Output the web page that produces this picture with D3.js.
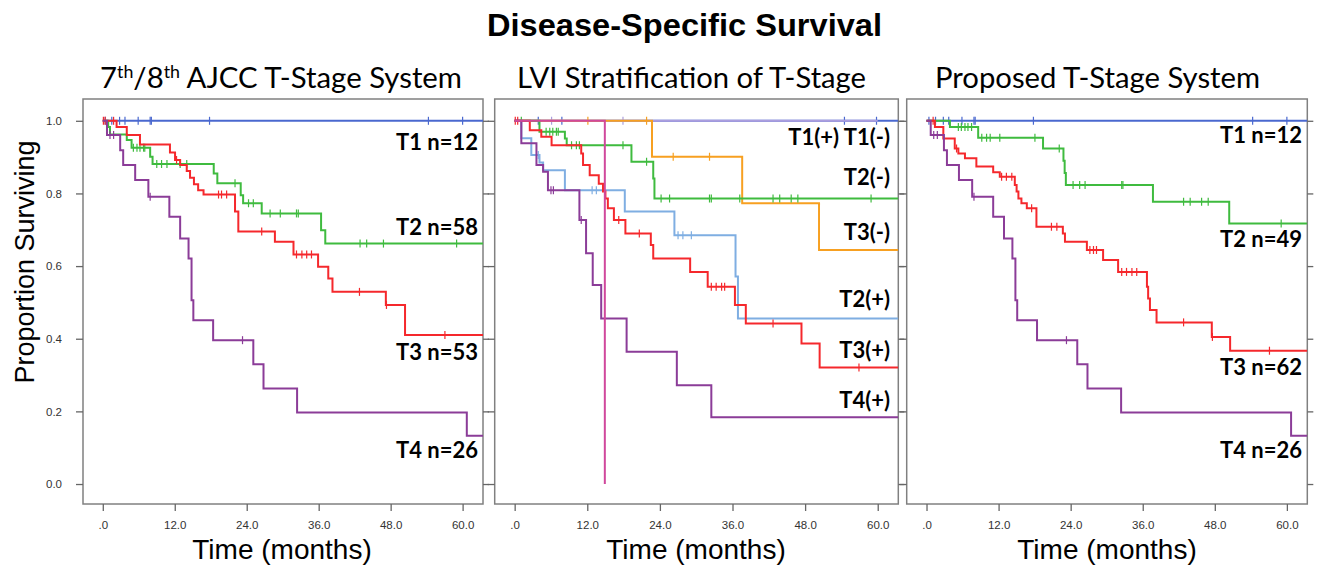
<!DOCTYPE html>
<html>
<head>
<meta charset="utf-8">
<script src="https://cdn.jsdelivr.net/npm/d3@7"></script>
<style>
  body { margin: 0; background: #fff; }
  svg { display: block; }
</style>
</head>
<body>
<svg id="chart" width="1321" height="572"></svg>
<script>
// ---- data ----
const xTicks = [0, 12, 24, 36, 48, 60];
const xTickLabels = [".0", "12.0", "24.0", "36.0", "48.0", "60.0"];
const yTicks = [0, 0.2, 0.4, 0.6, 0.8, 1.0];

// steps: [month, survival from that month on]; censor: months with a "+"
const t1Steps = [[0, 1]];
const t1Censor = [0.4, 1.5, 2.8, 3.7, 5.9, 7.9, 8.1, 17.8, 54.3, 60.0];

const t4Steps = [[0, 1], [0.7, 0.961], [2.9, 0.919], [3.4, 0.878], [5.4, 0.837], [7.6, 0.791],
  [11.1, 0.736], [12.9, 0.676], [14.3, 0.621], [14.8, 0.506], [15.1, 0.451], [18.4, 0.396],
  [25.1, 0.330], [26.8, 0.263], [32.4, 0.197], [60.7, 0.133]];
const t4Censor = [1.2, 1.8, 7.9, 23.3];

// 7th/8th AJCC
const ajccT2Steps = [[0, 1], [0.9, 0.983], [1.2, 0.962], [4.0, 0.947], [4.8, 0.926], [7.9, 0.901],
  [8.3, 0.881], [18.5, 0.855], [19.1, 0.828], [23.0, 0.795], [23.4, 0.773], [26.5, 0.745],
  [36.4, 0.699], [37.1, 0.662]];
const ajccT2Censor = [5.1, 5.7, 6.2, 6.8, 7.0, 9.0, 9.8, 10.7, 12.9, 14.0, 22.05, 24.3, 25.1,
  27.9, 29.6, 32.3, 32.6, 42.9, 44.0, 46.8, 59.0];
const ajccT3Steps = [[0, 1], [2.3, 0.983], [4.0, 0.961], [6.2, 0.935], [11.2, 0.913], [12.05, 0.892],
  [12.9, 0.878], [14.0, 0.862], [14.55, 0.843], [15.2, 0.825], [15.9, 0.809], [16.8, 0.797],
  [22.05, 0.750], [22.6, 0.695], [28.7, 0.667], [31.8, 0.632], [35.9, 0.598], [37.6, 0.566],
  [38.3, 0.529], [47.2, 0.493], [50.4, 0.410]];
const ajccT3Censor = [0.1, 0.4, 1.8, 12.3, 19.3, 19.8, 20.65, 26.5, 32.3, 33.2, 34.0, 34.8,
  42.8, 47.3, 57.05];

// LVI stratification
const lviT1nCensor = [3.9, 7.8, 54.5, 59.8];
const lviT1pCensor = [6.1, 17.9];
const lviT2nSteps = [[0, 1], [4.1, 0.970], [8.3, 0.951], [8.6, 0.933], [19.3, 0.887], [22.9, 0.841],
  [23.1, 0.786]];
const lviT2nCensor = [1.1, 5.2, 5.8, 6.3, 6.9, 7.2, 9.4, 10.2, 10.7, 17.9, 21.8, 24.2, 25.6,
  32.2, 32.5, 37.2, 42.7, 43.8, 45.7, 46.8, 58.9];
const lviT3nSteps = [[0, 1], [22.7, 0.901], [37.6, 0.773], [50.3, 0.644]];
const lviT3nCensor = [12.1, 21.8, 26.2, 32.2];
const lviT2pSteps = [[0, 1], [1.1, 0.952], [2.75, 0.906], [4.1, 0.885], [4.7, 0.864], [8.3, 0.809],
  [18.2, 0.750], [26.4, 0.685], [36.5, 0.571], [36.9, 0.456]];
const lviT2pCensor = [3.9, 12.8, 13.5, 27.0, 27.8, 29.2];
const lviT3pSteps = [[0, 1], [2.5, 0.974], [4.4, 0.956], [6.1, 0.933], [11.0, 0.910], [11.3, 0.878],
  [12.4, 0.850], [13.9, 0.827], [14.6, 0.805], [15.0, 0.786], [15.4, 0.759], [16.4, 0.727],
  [18.3, 0.690], [22.5, 0.658], [22.9, 0.621], [29.0, 0.584], [31.9, 0.543], [36.4, 0.493],
  [38.2, 0.442], [47.4, 0.387], [50.4, 0.321]];
const lviT3pCensor = [0.1, 0.5, 17.2, 20.6, 32.5, 33.3, 34.2, 34.7, 42.7, 56.9];
const lviT4pSteps = [[0, 1], [1.1, 0.938], [3.6, 0.878], [4.7, 0.860], [5.5, 0.809], [10.7, 0.727],
  [11.8, 0.635], [12.9, 0.548], [14.3, 0.456], [18.5, 0.364], [26.8, 0.272], [32.5, 0.184]];
const lviT4pCensor = [6.0, 6.4, 11.0];
const lviT4nSteps = [[0, 1], [14.9, 0]];

// proposed system
const propT2Steps = [[0, 1], [3.9, 0.983], [8.6, 0.953], [19.4, 0.924], [22.8, 0.89], [23.0, 0.856],
  [23.2, 0.823], [37.7, 0.777], [50.4, 0.717]];
const propT2Censor = [5.3, 5.8, 6.4, 6.9, 7.5, 9.2, 10.0, 10.6, 12.2, 18.05, 22.1, 24.4, 25.5,
  26.4, 32.5, 32.7, 42.8, 43.9, 45.8, 46.9, 59.05];
const propT3Steps = [[0, 1], [1.4, 0.983], [2.8, 0.951], [4.7, 0.924], [5.3, 0.910], [6.4, 0.897],
  [8.3, 0.874], [11.1, 0.858], [12.2, 0.846], [14.7, 0.823], [15.0, 0.805], [15.3, 0.786],
  [15.8, 0.773], [16.7, 0.759], [18.3, 0.708], [22.7, 0.690], [23.05, 0.667], [26.7, 0.644],
  [29.4, 0.617], [31.9, 0.584], [36.7, 0.543], [36.9, 0.511], [37.2, 0.479], [38.3, 0.445],
  [47.5, 0.405], [50.55, 0.367]];
const propT3Censor = [1.1, 5.0, 12.5, 13.3, 14.2, 17.5, 20.8, 21.7, 27.2, 27.8, 28.3, 32.5,
  33.3, 34.2, 35.0, 42.8, 47.6, 57.1];

const ajccLabels = ["T1 n=12", "T2 n=58", "T3 n=53", "T4 n=26"];
const lviLabels = ["T1(+) T1(-)", "T2(-)", "T3(-)", "T2(+)", "T3(+)", "T4(+)"];
const propLabels = ["T1 n=12", "T2 n=49", "T3 n=62", "T4 n=26"];

// ---- colours ----
const blue = "#4a68cf", green = "#3fbb3f", red = "#f5282c", purple = "#8b3c98";
const orange = "#f7a021", lightBlue = "#7faee2", lavender = "#ab9ede", magenta = "#d0489c";

// ---- layout ----
const END = 63.4;
const xDomain = [-3.3, 63.4];
const plotTop = 99, plotBottom = 504;
const y = d3.scaleLinear().domain([-0.055, 1.06]).range([plotBottom, plotTop]);

const panels = [
  {
    left: 83, right: 483, yLabels: true,
    titleX: 100, titleW: 362, axisTitleX: 282,
    curves: [
      { steps: t1Steps, censor: t1Censor, end: END, color: blue },
      { steps: ajccT2Steps, censor: ajccT2Censor, end: END, color: green },
      { steps: ajccT3Steps, censor: ajccT3Censor, end: END, color: red },
      { steps: t4Steps, censor: t4Censor, end: END, color: purple }
    ],
    labels: ajccLabels, labelRight: 478, labelY: [150, 235, 360, 458]
  },
  {
    left: 494.7, right: 898.3, yLabels: false,
    titleX: 517, titleW: 349, title: "LVI Stratification of T-Stage", axisTitleX: 696,
    curves: [
      { steps: t1Steps, censor: lviT1nCensor, end: END, color: blue },
      { steps: t1Steps, censor: lviT1pCensor, end: 60.0, color: lavender },
      { steps: lviT3nSteps, censor: lviT3nCensor, end: END, color: orange },
      { steps: lviT2nSteps, censor: lviT2nCensor, end: END, color: green },
      { steps: lviT2pSteps, censor: lviT2pCensor, end: END, color: lightBlue },
      { steps: lviT3pSteps, censor: lviT3pCensor, end: END, color: red },
      { steps: lviT4pSteps, censor: lviT4pCensor, end: END, color: purple },
      { steps: lviT4nSteps, censor: [], end: 14.9, color: magenta }
    ],
    labels: lviLabels, labelRight: 890, labelY: [145, 185, 240, 307, 358, 408]
  },
  {
    left: 906.7, right: 1307.3, yLabels: false,
    titleX: 935, titleW: 325, title: "Proposed T-Stage System", axisTitleX: 1107,
    curves: [
      { steps: t1Steps, censor: t1Censor, end: END, color: blue },
      { steps: propT2Steps, censor: propT2Censor, end: END, color: green },
      { steps: propT3Steps, censor: propT3Censor, end: END, color: red },
      { steps: t4Steps, censor: t4Censor, end: END, color: purple }
    ],
    labels: propLabels, labelRight: 1302, labelY: [143, 247, 375, 458]
  }
];

const svg = d3.select("#chart");

// main title
svg.append("text")
  .attr("x", 487).attr("y", 36)
  .attr("textLength", 395).attr("lengthAdjust", "spacingAndGlyphs")
  .style("font-family", "'Liberation Sans', Arial, sans-serif")
  .style("font-weight", "bold").style("font-size", "32px")
  .text("Disease-Specific Survival");

// y axis title
svg.append("text")
  .attr("transform", "translate(34,262) rotate(-90)")
  .attr("text-anchor", "middle")
  .style("font-family", "'Liberation Sans', Arial, sans-serif")
  .style("font-size", "27px")
  .text("Proportion Surviving");

function survAt(steps, t) {
  let s = steps[0][1];
  steps.forEach(d => { if (d[0] <= t) s = d[1]; });
  return s;
}

panels.forEach((p, pi) => {
  const x = d3.scaleLinear().domain(xDomain).range([p.left, p.right]);
  const g = svg.append("g");

  // panel title
  const title = g.append("text")
    .attr("x", p.titleX).attr("y", 88)
    .attr("textLength", p.titleW).attr("lengthAdjust", "spacingAndGlyphs")
    .style("font-family", "Lato, 'Open Sans', sans-serif")
    .style("font-size", "28px");
  if (pi === 0) {
    title.append("tspan").text("7");
    title.append("tspan").attr("dy", -10).style("font-size", "17px").text("th");
    title.append("tspan").attr("dy", 10).text("/8");
    title.append("tspan").attr("dy", -10).style("font-size", "17px").text("th");
    title.append("tspan").attr("dy", 10).text(" AJCC T-Stage System");
  } else {
    title.text(p.title);
  }

  // frame
  g.append("rect")
    .attr("x", p.left).attr("y", plotTop)
    .attr("width", p.right - p.left).attr("height", plotBottom - plotTop)
    .attr("fill", "#fff").attr("stroke", "#808080").attr("stroke-width", 1.5);

  // axes
  const xAxis = g.append("g")
    .attr("transform", `translate(0,${plotBottom})`)
    .call(d3.axisBottom(x).tickValues(xTicks).tickSize(7).tickPadding(10)
      .tickFormat((d, i) => xTickLabels[i]));
  const yAxisL = g.append("g")
    .attr("transform", `translate(${p.left},0)`)
    .call(d3.axisLeft(y).tickValues(yTicks).tickSize(7).tickPadding(14)
      .tickFormat(p.yLabels ? d3.format(".1f") : ""));
  const yAxisR = g.append("g")
    .attr("transform", `translate(${p.right},0)`)
    .call(d3.axisRight(y).tickValues(yTicks).tickSize(6).tickFormat(""));
  [xAxis, yAxisL, yAxisR].forEach(a => {
    a.select(".domain").remove();
    a.selectAll(".tick line").attr("stroke", "#666").attr("stroke-width", 1.3);
    a.selectAll(".tick text")
      .style("font-family", "'Liberation Sans', Arial, sans-serif")
      .style("font-size", "11.5px").attr("fill", "#333");
  });

  // x axis title
  g.append("text")
    .attr("x", p.axisTitleX).attr("y", 559)
    .attr("text-anchor", "middle")
    .style("font-family", "'Liberation Sans', Arial, sans-serif")
    .style("font-size", "28px")
    .text("Time (months)");

  // curves
  const clipId = "clip" + pi;
  g.append("clipPath").attr("id", clipId).append("rect")
    .attr("x", p.left).attr("y", plotTop).attr("width", p.right - p.left).attr("height", plotBottom - plotTop);
  const plot = g.append("g").attr("clip-path", `url(#${clipId})`);

  const line = d3.line().x(d => x(d[0])).y(d => y(d[1])).curve(d3.curveStepAfter);

  p.curves.forEach(c => {
    const pts = c.steps.concat([[c.end, c.steps[c.steps.length - 1][1]]]);
    plot.append("path")
      .attr("d", line(pts))
      .attr("fill", "none").attr("stroke", c.color).attr("stroke-width", 2);
    plot.selectAll(null)
      .data(c.censor)
      .enter().append("line")
      .attr("x1", d => x(d)).attr("x2", d => x(d))
      .attr("y1", d => y(survAt(c.steps, d)) - 4)
      .attr("y2", d => y(survAt(c.steps, d)) + 4)
      .attr("stroke", c.color).attr("stroke-width", 1.2);
  });

  // group labels
  g.selectAll(".grp")
    .data(p.labels)
    .enter().append("text")
    .attr("x", p.labelRight)
    .attr("y", (d, i) => p.labelY[i])
    .attr("text-anchor", "end")
    .style("font-family", "Lato, 'Open Sans', sans-serif")
    .style("font-weight", "bold").style("font-size", "22px")
    .text(d => d);
});
</script>
</body>
</html>
